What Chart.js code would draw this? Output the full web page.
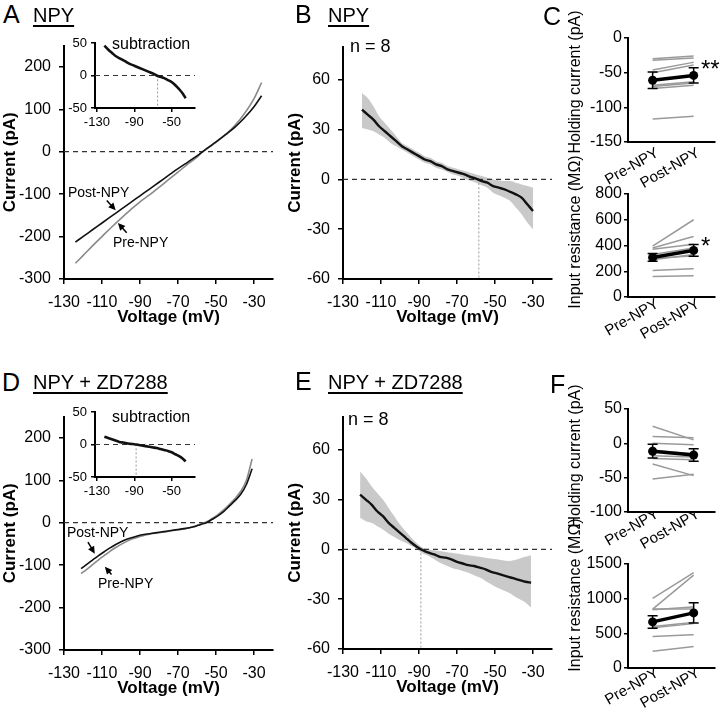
<!DOCTYPE html>
<html>
<head>
<meta charset="utf-8">
<script src="https://cdn.jsdelivr.net/npm/chart.js@4.4.0/dist/chart.umd.min.js"></script>
<style>
  body { margin: 0; background: #fff; width: 720px; height: 718px; position: relative; overflow: hidden;
         font-family: "Liberation Sans", Arial, sans-serif; color: #000; }
  canvas { position: absolute; }
  .t { position: absolute; white-space: nowrap; line-height: 1; }
  .letter { font-size: 25px; }
  .head { font-size: 20px; text-decoration: underline; text-decoration-thickness: 1.5px; text-underline-offset: 3px; }
  .vt { position: absolute; white-space: nowrap; line-height: 1; font-size: 16px; transform: translate(-50%, -50%) rotate(-90deg); }
</style>
</head>
<body>
<script>
const FONT = "'Liberation Sans', Arial, sans-serif";

// ---- data ----
const voltTicks = [-130, -110, -90, -70, -50, -30];
const insetVoltTicks = [-130, -90, -50];
const ivTicks = [-300, -200, -100, 0, 100, 200];
const insetTicks = [-50, 0, 50];
const diffTicks = [-60, -30, 0, 30, 60];
const groups = ['Pre-NPY', 'Post-NPY'];
const groupX = [0, 1];

// A: NPY, I-V before / after
const aVolt = [-124, -120, -115, -110, -105, -100, -95, -90, -85, -80, -75, -70, -65, -60, -57, -55, -50, -45, -40, -35, -30, -26];
const aPre  = [-263, -245, -222, -200, -178, -157, -137, -118, -102, -84, -66, -48, -30, -13, 0, 6, 22, 40, 62, 90, 125, 163];
const aPost = [-213, -200, -184, -168, -152, -136, -120, -104, -88, -72, -56, -40, -25, -10, 0, 7, 23, 40, 58, 80, 106, 132];
const aSubVolt = [-122, -118, -114, -110, -105, -100, -95, -90, -85, -80, -75, -70, -66, -62, -58, -54, -50, -46, -42, -38, -35];
const aSub     = [46, 40, 35, 30, 26, 22, 18, 15, 12, 9, 6, 3, 0, -2, -4, -7, -10, -15, -21, -28, -35];
const aSubRev = -65;

// B: NPY, mean subtraction (n = 8)
const bVolt  = [-120, -117, -114, -111, -108, -105, -102, -99, -96, -93, -90, -87, -84, -81, -78, -75, -72, -69, -66, -63, -60, -57, -54, -51, -48, -45, -42, -39, -36, -33, -30];
const bMean  = [42, 39, 36, 32, 29, 26, 23, 20, 18, 16, 14, 12, 11, 9, 8, 6, 5, 4, 3, 1.5, 0.5, -1, -2, -4, -5, -6, -7.5, -9, -11, -15, -19];
const bUpper = [52, 49, 44, 38, 34, 30, 26, 22, 20, 18, 16, 14, 13, 11, 10, 8, 7, 6, 5, 4, 3, 2, 1, 0, -0.5, -1, -1, -2, -3, -4, -5];
const bLower = [31, 30, 29, 27, 25, 22, 20, 18, 16, 14, 12, 10, 9, 7, 6, 4.5, 3, 2, 0.5, -1, -2, -3.5, -5, -8, -9.5, -11, -13, -17, -21, -26, -30];
const bRev = -58.5;

// C: holding current and input resistance, NPY
const cHoldPre  = [-30, -32, -46, -50, -68, -70, -73, -117];
const cHoldPost = [-26, -29, -35, -39, -63, -65, -68, -113];
const cHoldMean = [-61, -54];
const cHoldSem  = [12, 11];
const cHoldTicks = [-150, -100, -50, 0];
const cResPre  = [395, 380, 370, 330, 300, 290, 205, 160];
const cResPost = [600, 470, 410, 380, 320, 330, 220, 165];
const cResMean = [307, 362];
const cResSem  = [30, 45];
const cResTicks = [0, 200, 400, 600, 800];

// D: NPY + ZD7288, I-V before / after
const dVolt = [-121, -118, -115, -112, -109, -106, -103, -100, -97, -94, -91, -88, -85, -82, -79, -76, -73, -70, -67, -64, -61, -58, -55, -52, -49, -46, -43, -40, -37, -34, -31];
const dPre  = [-120, -110, -99, -88, -78, -68, -59, -51, -44, -38, -34, -30, -27, -25, -23, -21, -19, -17, -15, -12, -8, -3, 2, 10, 19, 30, 43, 57, 74, 100, 150];
const dPost = [-108, -98, -88, -78, -69, -60, -52, -45, -39, -35, -31, -28, -26, -24, -22, -20, -18, -16, -14, -12, -9, -4, 0, 8, 16, 26, 39, 52, 67, 90, 127];
const dSubVolt = [-122, -118, -114, -110, -106, -102, -98, -94, -90, -86, -82, -78, -74, -70, -66, -62, -58, -54, -50, -46, -42, -38, -35];
const dSub     = [12, 10, 8, 6, 4, 3, 2, 1, 0.5, -0.5, -1.5, -2.5, -3.5, -4.5, -5.5, -7, -8.5, -10, -12, -15, -18, -22, -26];
const dSubRev = -88;

// E: NPY + ZD7288, mean subtraction (n = 8)
const eVolt  = [-121, -118, -115, -112, -109, -106, -103, -100, -97, -94, -91, -88, -85, -82, -79, -76, -73, -70, -67, -64, -61, -58, -55, -52, -49, -46, -43, -40, -37, -34, -31];
const eMean  = [33, 30, 27, 23, 20, 16, 13, 10, 7, 4, 1.5, -0.5, -2, -3, -4.5, -5, -6, -7.5, -8.5, -9.5, -10, -11, -12, -13.5, -14.5, -15.5, -16.5, -17.5, -18.5, -19.5, -20];
const eUpper = [47, 43, 38, 34, 30, 25, 20, 15, 11, 7, 3.5, 1, 0, -0.5, -1, -1.5, -2, -2.5, -3, -3.5, -4, -4.5, -5, -5.5, -6, -6.5, -7, -6.5, -5.5, -4.5, -3.5];
const eLower = [19, 17, 16, 14, 12, 9.5, 7.5, 5.5, 4, 2, 0, -2.5, -4, -6, -8, -9.5, -11, -12, -13, -14, -15.5, -17, -19, -21, -23, -24.5, -26, -28, -30, -32, -35];
const eRev = -89;

// F: holding current and input resistance, NPY + ZD7288
const fHoldPre  = [25, 10, 0, -10, -18, -22, -30, -52];
const fHoldPost = [5, 8, -2, -15, -20, -24, -47, -45];
const fHoldMean = [-11.5, -17];
const fHoldSem  = [10, 9];
const fHoldTicks = [-100, -50, 0, 50];
const fResPre  = [1005, 850, 850, 840, 600, 580, 455, 240];
const fResPost = [1375, 1340, 850, 880, 656, 640, 480, 310];
const fResMean = [665, 795];
const fResSem  = [90, 145];
const fResTicks = [0, 500, 1000, 1500];

// ---- helpers ----
const xy = (xs, ys) => xs.map((x, i) => ({x, y: ys[i]}));
const line = (data, color, width, extra) => Object.assign(
  {data, borderColor: color, borderWidth: width, pointRadius: 0, fill: false, cubicInterpolationMode: 'monotone'}, extra || {});
const zeroLine = (x0, x1) => line([{x: x0, y: 0}, {x: x1, y: 0}], '#333', 1.2, {borderDash: [5, 4]});
const revLine = (v, ymin) => line([{x: v, y: 0}, {x: v, y: ymin}], '#999', 1, {borderDash: [2, 2]});

// arrows (data coords) and error bars
const marks = {
  id: 'marks',
  afterDatasetsDraw(chart, args, o) {
    const ctx = chart.ctx, x = chart.scales.x, y = chart.scales.y;
    ctx.save();
    ctx.strokeStyle = '#000';
    ctx.fillStyle = '#000';
    (o.arrows || []).forEach(a => {
      const x1 = x.getPixelForValue(a[0]), y1 = y.getPixelForValue(a[1]);
      const x2 = x.getPixelForValue(a[2]), y2 = y.getPixelForValue(a[3]);
      const ang = Math.atan2(y2 - y1, x2 - x1);
      ctx.lineWidth = 1.5;
      ctx.beginPath();
      ctx.moveTo(x1, y1);
      ctx.lineTo(x2 - 4 * Math.cos(ang), y2 - 4 * Math.sin(ang));
      ctx.stroke();
      ctx.beginPath();
      ctx.moveTo(x2, y2);
      ctx.lineTo(x2 - 8 * Math.cos(ang - 0.45), y2 - 8 * Math.sin(ang - 0.45));
      ctx.lineTo(x2 - 8 * Math.cos(ang + 0.45), y2 - 8 * Math.sin(ang + 0.45));
      ctx.closePath();
      ctx.fill();
    });
    if (o.err) {
      ctx.lineWidth = 1.5;
      o.err.x.forEach((xv, i) => {
        const px = x.getPixelForValue(xv);
        const top = y.getPixelForValue(o.err.m[i] + o.err.s[i]);
        const bot = y.getPixelForValue(o.err.m[i] - o.err.s[i]);
        ctx.beginPath();
        ctx.moveTo(px, top); ctx.lineTo(px, bot);
        ctx.moveTo(px - 5, top); ctx.lineTo(px + 5, top);
        ctx.moveTo(px - 5, bot); ctx.lineTo(px + 5, bot);
        ctx.stroke();
      });
    }
    ctx.restore();
  }
};

function axis(min, max, ticks, o) {
  return {
    type: 'linear', min, max,
    afterBuildTicks: s => { s.ticks = ticks.map(v => ({value: v})); },
    afterFit: s => { if (o.w != null) s.width = o.w; if (o.h != null) s.height = o.h; },
    grid: {display: o.noTicks ? false : true, drawOnChartArea: false, drawTicks: true,
           tickLength: o.tl || 5, color: '#000', lineWidth: 1.5},
    border: {display: true, color: '#000', width: 2},
    ticks: {color: '#000', font: {family: FONT, size: o.fs || 16}, padding: o.pad != null ? o.pad : 8,
            labelOffset: o.lo || 0,
            autoSkip: false, maxRotation: o.rot || 0, minRotation: o.rot || 0,
            callback: o.labels ? ((v, i) => o.labels[i]) : (v => String(v))},
    title: o.title ? {display: true, text: o.title, color: '#000', padding: 0,
                      font: {family: FONT, size: 17, weight: 'bold'}} : {display: false}
  };
}

function makeChart(box, padL, padB, datasets, xs, ys, markOpts) {
  const cv = document.createElement('canvas');
  const w = box.r - box.l + padL + 14, h = box.b - box.t + 12 + padB;
  cv.width = w; cv.height = h;
  cv.style.left = (box.l - padL) + 'px';
  cv.style.top = (box.t - 12) + 'px';
  cv.style.width = w + 'px';
  cv.style.height = h + 'px';
  document.body.appendChild(cv);
  return new Chart(cv, {
    type: 'line',
    data: {datasets},
    options: {
      responsive: false, animation: false, devicePixelRatio: 1,
      layout: {padding: {left: 0, top: 12, right: 14, bottom: 0}},
      plugins: {legend: {display: false}, tooltip: {enabled: false}, marks: markOpts || {}},
      scales: {x: xs, y: ys}
    },
    plugins: [marks]
  });
}

// ---- I-V panels (A, D) ----
function ivPanel(top, volt, pre, post, arrows) {
  const box = {l: 64, r: 273, t: top, b: top + 239};
  makeChart(box, 64, 49, [
    line(xy(volt, post), '#111', 1.6),
    line(xy(volt, pre), '#8a8a8a', 1.6),
    zeroLine(-130, -20)
  ],
  axis(-130, -20, voltTicks, {h: 49, title: 'Voltage (mV)', pad: 9}),
  axis(-300, 250, ivTicks, {w: 64, title: 'Current (pA)'}),
  {arrows});
}

function insetPanel(top, volt, sub, rev) {
  const box = {l: 95, r: 195, t: top, b: top + 65};
  makeChart(box, 40, 25, [
    line(xy(volt, sub), '#111', 2.6),
    zeroLine(-132, -25),
    revLine(rev, -50)
  ],
  axis(-132, -25, insetVoltTicks, {h: 25, fs: 13, tl: 4, pad: 3}),
  axis(-50, 50, insetTicks, {w: 40, fs: 13, tl: 4, pad: 4}));
}

function diffPanel(top, volt, mean, upper, lower, rev) {
  const box = {l: 343, r: 552, t: top, b: top + 238};
  makeChart(box, 58, 49, [
    line(xy(volt, mean), '#111', 2.4),
    zeroLine(-130, -20),
    revLine(rev, -60),
    line(xy(volt, upper), 'rgba(0,0,0,0)', 0),
    line(xy(volt, lower), 'rgba(0,0,0,0)', 0, {fill: '-1', backgroundColor: '#c9c9c9'})
  ],
  axis(-130, -20, voltTicks, {h: 49, title: 'Voltage (mV)', pad: 9}),
  axis(-60, 80, diffTicks, {w: 58, title: 'Current (pA)'}));
}

function pairPanel(box, pre, post, mean, sem, min, max, ticks, labelPad) {
  const ds = [line(xy(groupX, mean), '#000', 3.5, {pointRadius: 4.5, pointBackgroundColor: '#000', pointBorderWidth: 0})];
  pre.forEach((p, i) => ds.push(line(xy(groupX, [p, post[i]]), '#9a9a9a', 1.5)));
  makeChart(box, 95, 60, ds,
    axis(-0.6, 1.52, groupX, {h: 60, labels: groups, rot: 30, noTicks: true, pad: labelPad, lo: 5, fs: 15}),
    axis(min, max, ticks, {w: 95, tl: 4, pad: 2}),
    {err: {x: groupX, m: mean, s: sem}});
}

ivPanel(40, aVolt, aPre, aPost, [[-107.5, -115, -102.8, -138], [-97, -191, -101.6, -168]]);
insetPanel(43, aSubVolt, aSub, aSubRev);
diffPanel(41, bVolt, bMean, bUpper, bLower, bRev);
pairPanel({l: 628, r: 715, t: 38, b: 142}, cHoldPre, cHoldPost, cHoldMean, cHoldSem, -150, 0, cHoldTicks, -3);
pairPanel({l: 628, r: 715, t: 194, b: 297}, cResPre, cResPost, cResMean, cResSem, 0, 800, cResTicks, -7);

ivPanel(411, dVolt, dPre, dPost, [[-117.4, -46, -113.8, -73], [-105, -122, -108.5, -104]]);
insetPanel(412, dSubVolt, dSub, dSubRev);
diffPanel(411, eVolt, eMean, eUpper, eLower, eRev);
pairPanel({l: 628, r: 715, t: 409, b: 512}, fHoldPre, fHoldPost, fHoldMean, fHoldSem, -100, 50, fHoldTicks, -12);
pairPanel({l: 628, r: 715, t: 564, b: 668}, fResPre, fResPost, fResMean, fResSem, 0, 1500, fResTicks, -9);

// ---- text ----
const texts = [
  ['letter', 'A', 3, 2], ['head', 'NPY', 33, 5],
  ['letter', 'B', 295, 2], ['head', 'NPY', 328, 5],
  ['letter', 'C', 543, 4],
  ['letter', 'D', 2, 370], ['head', 'NPY + ZD7288', 33, 372],
  ['letter', 'E', 295, 369], ['head', 'NPY + ZD7288', 328, 372],
  ['letter', 'F', 550, 372]
];
texts.forEach(([cls, s, x, y]) => {
  const d = document.createElement('div');
  d.className = 't ' + cls; d.textContent = s;
  d.style.left = x + 'px'; d.style.top = y + 'px';
  document.body.appendChild(d);
});
const small = [
  ['subtraction', 112, 36, 16], ['subtraction', 112, 409, 16],
  ['n = 8', 350, 37, 18], ['n = 8', 348, 410, 18],
  ['Post-NPY', 68, 185, 14], ['Pre-NPY', 113, 235, 14],
  ['Post-NPY', 67, 525, 14], ['Pre-NPY', 98, 576, 14],
  ['**', 701, 57, 24], ['*', 701, 234, 24]
];
small.forEach(([s, x, y, f]) => {
  const d = document.createElement('div');
  d.className = 't'; d.textContent = s;
  d.style.left = x + 'px'; d.style.top = y + 'px'; d.style.fontSize = f + 'px';
  document.body.appendChild(d);
});
const vtitles = [
  ['Holding current (pA)', 575, 82], ['Input resistance (MΩ)', 575, 232],
  ['Holding current (pA)', 575, 456], ['Input resistance (MΩ)', 575, 595]
];
vtitles.forEach(([s, x, y]) => {
  const d = document.createElement('div');
  d.className = 'vt'; d.textContent = s;
  d.style.left = x + 'px'; d.style.top = y + 'px';
  document.body.appendChild(d);
});
</script>
</body>
</html>
